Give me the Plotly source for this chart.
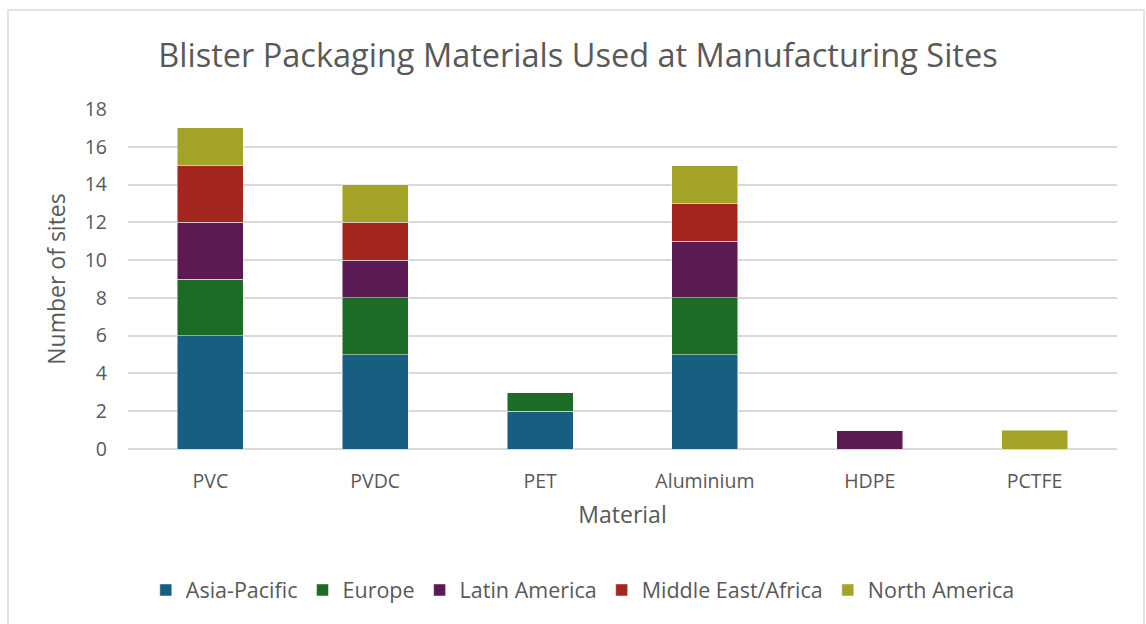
import plotly.graph_objects as go

materials = ["PVC", "PVDC", "PET", "Aluminium", "HDPE", "PCTFE"]

asia_pacific = [6, 5, 2, 5, 0, 0]
europe = [3, 3, 1, 3, 0, 0]
latin_america = [3, 2, 0, 3, 1, 0]
middle_east_africa = [3, 2, 0, 2, 0, 0]
north_america = [2, 2, 0, 2, 0, 1]

series = [
    ("Asia-Pacific", asia_pacific, "#175E81"),
    ("Europe", europe, "#1C6B26"),
    ("Latin America", latin_america, "#5C1A55"),
    ("Middle East/Africa", middle_east_africa, "#A3261F"),
    ("North America", north_america, "#A3A328"),
]

y_ticks = [0, 2, 4, 6, 8, 10, 12, 14, 16, 18]

FONT = "Open Sans"
GREY = "#595959"

fig = go.Figure()
for name, vals, color in series:
    fig.add_trace(go.Bar(
        x=materials, y=vals, name=name,
        marker=dict(color=color, line=dict(color="rgba(255,255,255,0.6)", width=0.8)),
    ))

W, H = 1146, 624
ml, mr, mt, mb = 128, 29, 109, 175
pw, ph = W - ml - mr, H - mt - mb

def px_x(p):
    return (p - ml) / pw

def px_y(p):
    return (H - mb - p) / ph

fig.update_layout(
    width=W, height=H,
    barmode="stack", bargap=0.6,
    plot_bgcolor="white", paper_bgcolor="white",
    margin=dict(l=ml, r=mr, t=mt, b=mb),
    font=dict(family=FONT, color=GREY, size=19),
    title=dict(
        text="Blister Packaging Materials Used at Manufacturing Sites",
        x=578 / W, xanchor="center", y=1 - 56 / H, yanchor="middle",
        font=dict(size=32.5, color=GREY, family=FONT),
    ),
    xaxis=dict(
        title=dict(text="Material", font=dict(size=23, color=GREY), standoff=14),
        showgrid=False, showline=False, ticks="", ticklabelstandoff=18,
        tickfont=dict(size=19.5, color=GREY),
    ),
    yaxis=dict(
        title=dict(text="Number of sites", font=dict(size=23, color=GREY), standoff=12),
        range=[0, 18], tickvals=y_ticks, ticktext=[str(v) for v in y_ticks],
        showgrid=True, gridcolor="#D9D9D9", gridwidth=1.5,
        zeroline=True, zerolinecolor="#D9D9D9", zerolinewidth=1.5,
        showline=False, ticks="", ticklabelstandoff=20,
        tickfont=dict(size=19.5, color=GREY),
    ),
    legend=dict(
        orientation="h", x=527 / W, xanchor="center",
        y=px_y(590), yanchor="middle", yref="paper",
        font=dict(size=21.5, color=GREY), traceorder="normal",
    ),
    shapes=[dict(
        type="rect", xref="paper", yref="paper",
        x0=px_x(8), x1=px_x(1144), y0=px_y(640), y1=px_y(10),
        line=dict(color="#D9D9D9", width=1.5), fillcolor="rgba(0,0,0,0)", layer="below",
    )],
)

fig.write_html("out.html")
